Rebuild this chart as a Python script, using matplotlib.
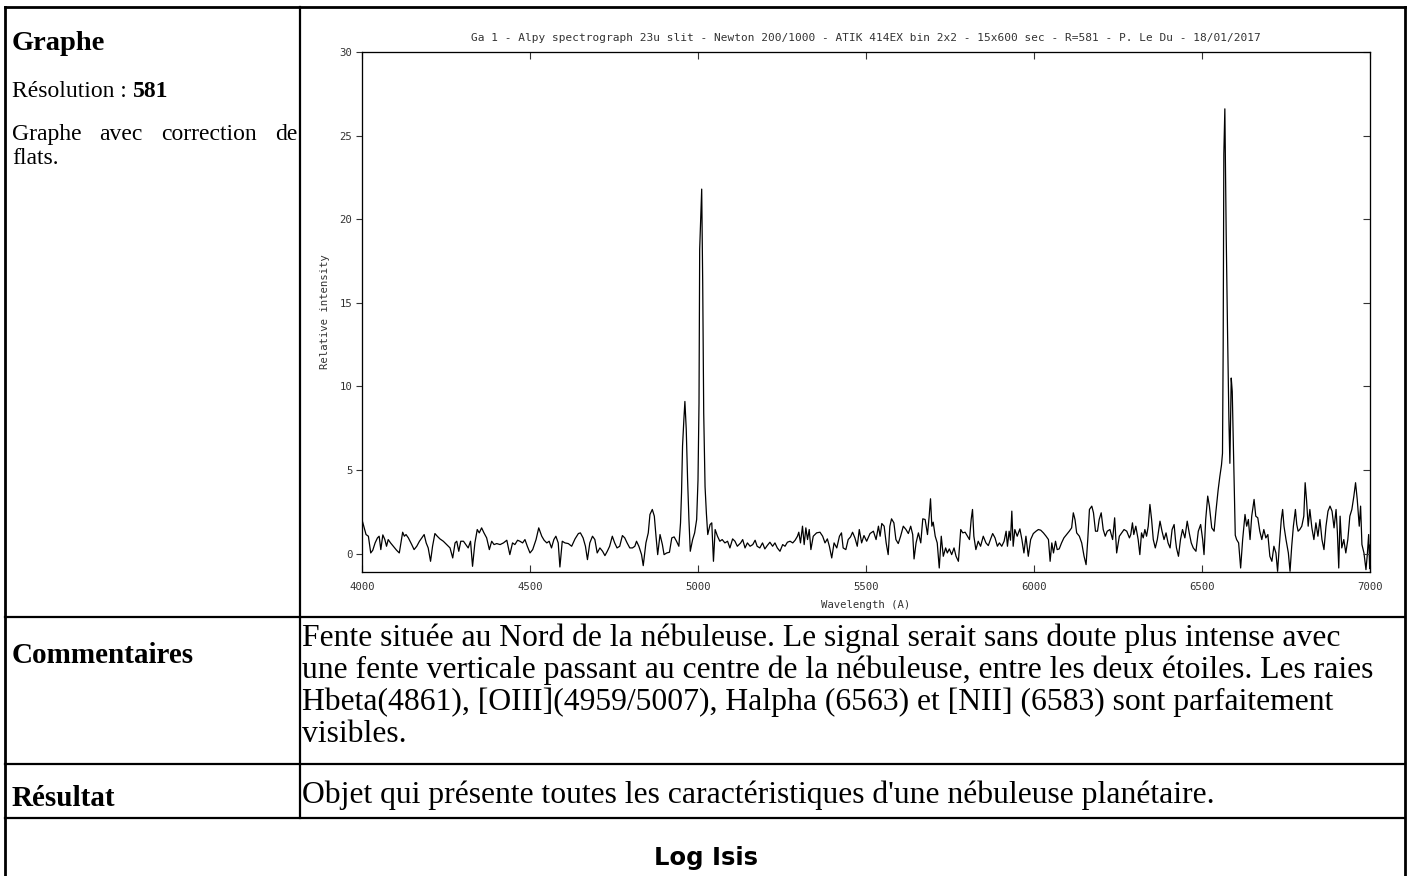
import numpy as np
import matplotlib
matplotlib.use('Agg')
import matplotlib.pyplot as plt

# ISIS spectrum of Ga 1: wavelength (A) / relative intensity
wave_blue = [4002, 4012, 4019, 4026, 4032, 4039, 4046, 4051, 4056, 4062,
             4068, 4073, 4078, 4085, 4093, 4103, 4111, 4115, 4121, 4126,
             4131, 4138, 4148, 4155, 4163, 4171, 4178, 4185, 4191, 4197,
             4204, 4210, 4217, 4224, 4232, 4242, 4252, 4262, 4270, 4277,
             4282, 4288, 4294, 4302, 4309, 4316, 4323, 4329, 4336, 4343,
             4349, 4356, 4363, 4371, 4379, 4386, 4393, 4401, 4411, 4421,
             4431, 4440, 4448, 4455, 4463, 4470, 4478, 4485, 4492, 4500,
             4508, 4518, 4526, 4535, 4542, 4550, 4557, 4564, 4571, 4577,
             4584, 4589, 4596, 4604, 4614, 4624, 4634, 4644, 4650, 4658,
             4665, 4671, 4678, 4686, 4693, 4700, 4708, 4716, 4723, 4730,
             4737, 4745, 4752, 4759, 4767, 4775, 4782, 4789, 4797, 4805,
             4812, 4817, 4824, 4832, 4837, 4845, 4852, 4857, 4864, 4870,
             4875, 4880, 4887, 4894, 4899, 4907, 4915, 4922, 4929, 4936,
             4943, 4948, 4951, 4954, 4958, 4961, 4965, 4969, 4973, 4977,
             4984, 4990, 4996, 5000, 5003, 5005, 5008, 5011, 5014, 5017,
             5021, 5025, 5029, 5036, 5041, 5046, 5051, 5058, 5065, 5072,
             5080, 5088, 5095, 5103, 5110, 5117]
flux_blue = [1.88, 1.14, 1.04, 0.04, 0.20, 0.64, 0.94, 1.04, 0.24, 1.12,
             0.84, 0.44, 0.84, 0.64, 0.44, 0.20, 0.04, 0.54, 1.28, 1.04,
             1.14, 0.94, 0.54, 0.24, 0.44, 0.74, 0.94, 1.14, 0.64, 0.34,
             -0.46, 0.44, 1.20, 1.04, 0.88, 0.74, 0.54, 0.34, -0.26, 0.64,
             0.74, 0.14, 0.74, 0.74, 0.54, 0.34, 0.74, -0.76, 0.64, 1.44,
             1.24, 1.54, 1.24, 0.94, 0.24, 0.74, 0.54, 0.60, 0.54, 0.64,
             0.80, -0.06, 0.64, 0.54, 0.80, 0.74, 0.64, 0.84, 0.44, 0.04,
             0.24, 0.84, 1.54, 1.04, 0.80, 0.64, 0.74, 0.34, 0.84, 1.04,
             0.64, -0.80, 0.74, 0.64, 0.60, 0.44, 0.88, 1.20, 1.24, 0.94,
             0.44, -0.36, 0.64, 1.04, 0.84, 0.04, 0.34, 0.14, -0.12, 0.14,
             0.44, 1.04, 0.64, 0.34, 0.44, 1.08, 0.94, 0.64, 0.34, 0.34,
             0.44, 0.74, 0.44, -0.06, -0.72, 0.64, 1.24, 2.34, 2.64, 2.24,
             1.04, -0.06, 1.14, 0.54, -0.06, 0.04, 0.08, 0.94, 1.00, 0.74,
             0.44, 1.84, 3.64, 6.44, 8.04, 9.10, 7.44, 4.44, 2.04, 0.14,
             0.84, 1.24, 2.04, 4.40, 9.00, 18.20, 20.00, 21.80, 16.20, 8.40,
             4.00, 2.40, 1.14, 1.74, 1.84, -0.46, 1.44, 1.04, 0.74, 0.84,
             0.64, 0.74, 0.34, 0.88, 0.74, 0.44]

wave_green = [5127, 5133, 5140, 5147, 5155, 5163, 5170, 5176, 5184, 5192,
              5199, 5206, 5214, 5222, 5229, 5236, 5244, 5252, 5259, 5266,
              5274, 5282, 5289, 5296, 5300, 5305, 5311, 5316, 5321, 5326,
              5331, 5336, 5343, 5353, 5363, 5371, 5378, 5385, 5391, 5398,
              5405, 5413, 5421, 5427, 5432, 5440, 5447, 5454, 5460, 5467,
              5474, 5480, 5487, 5494, 5502, 5512, 5522, 5530, 5537, 5542,
              5547, 5554, 5560, 5566, 5571, 5576, 5583, 5589, 5596, 5603,
              5611, 5619, 5626, 5633, 5639, 5643, 5649, 5656, 5663, 5669,
              5676, 5683, 5688, 5692, 5696, 5700, 5706, 5712, 5718, 5724,
              5730, 5737, 5742, 5748, 5755, 5762, 5768, 5775, 5782, 5788,
              5795, 5802, 5808, 5813, 5817, 5821, 5827, 5834, 5841, 5849,
              5857, 5864, 5871, 5877, 5884, 5891, 5897, 5904, 5911, 5917,
              5921, 5926, 5930, 5934, 5938, 5943, 5950, 5958, 5964, 5970,
              5976, 5983, 5990, 5998, 6006, 6013, 6020, 6028, 6036, 6043,
              6048, 6053, 6058, 6064, 6069, 6075, 6082, 6089, 6097, 6105,
              6112, 6117, 6122, 6127, 6135, 6142, 6149, 6155, 6160, 6165,
              6172, 6177, 6183, 6189, 6194, 6200, 6206, 6212, 6218]
flux_green = [0.64, 0.84, 0.34, 0.64, 0.44, 0.54, 0.80, 0.44, 0.34, 0.64,
              0.28, 0.48, 0.68, 0.44, 0.64, 0.34, 0.14, 0.54, 0.44, 0.68,
              0.74, 0.64, 0.80, 1.04, 1.28, 0.64, 1.64, 0.54, 1.54, 0.84,
              1.44, 0.24, 1.04, 1.24, 1.28, 1.04, 0.64, 0.88, 0.44, -0.26,
              0.64, 0.34, 1.04, 1.24, 0.34, 0.24, 0.84, 1.00, 1.28, 0.94,
              0.44, 1.44, 0.64, 1.08, 0.74, 1.20, 1.34, 0.84, 1.64, 1.04,
              1.80, 1.64, 0.64, -0.06, 1.64, 2.08, 1.84, 0.84, 0.60, 1.04,
              1.64, 1.44, 1.20, 1.64, 1.14, -0.32, 0.64, 1.24, 0.64, 2.08,
              2.04, 1.14, 2.24, 3.28, 1.64, 1.88, 1.04, 0.64, -0.86, 1.04,
              -0.16, 0.34, 0.04, 0.28, -0.06, 0.34, -0.16, -0.46, 1.44, 1.24,
              1.28, 1.04, 0.84, 2.04, 2.64, 1.04, 0.24, 0.74, 0.44, 1.04,
              0.64, 0.48, 0.88, 1.20, 0.94, 0.44, 0.64, 0.44, 0.74, 1.34,
              0.44, 1.34, 0.80, 2.54, 0.44, 1.44, 1.04, 1.48, 0.84, 0.04,
              1.04, -0.16, 0.84, 1.20, 1.34, 1.44, 1.40, 1.24, 1.04, 0.84,
              -0.46, 0.64, 0.04, 0.74, 0.24, 0.28, 0.64, 0.94, 1.14, 1.34,
              1.54, 2.44, 2.04, 1.24, 1.04, 0.64, -0.16, -0.66, 0.84, 2.64,
              2.84, 2.44, 1.34, 1.34, 2.04, 2.44, 1.44, 1.04, 1.34]

wave_red = [6226, 6234, 6240, 6246, 6254, 6261, 6268, 6276, 6284, 6288,
            6293, 6297, 6303, 6310, 6315, 6320, 6325, 6330, 6335, 6340,
            6345, 6350, 6355, 6361, 6367, 6375, 6381, 6387, 6393, 6399,
            6405, 6411, 6417, 6421, 6424, 6430, 6436, 6442, 6449, 6456,
            6462, 6468, 6474, 6482, 6489, 6496, 6502, 6506, 6511, 6517,
            6522, 6529, 6536, 6541, 6548, 6553, 6558, 6561, 6563, 6565,
            6568, 6572, 6576, 6580, 6583, 6587, 6590, 6594, 6599, 6603,
            6609, 6615, 6621, 6628, 6633, 6638, 6643, 6648, 6655, 6660,
            6666, 6672, 6678, 6684, 6690, 6696, 6702, 6708, 6714, 6720,
            6725, 6730, 6736, 6740, 6744, 6750, 6757, 6762, 6767, 6772,
            6778, 6782, 6786, 6791, 6797, 6803, 6807, 6811, 6816, 6821,
            6827, 6833, 6839, 6845, 6851, 6857, 6863, 6869, 6875, 6881,
            6887, 6893, 6899, 6903, 6907, 6911, 6916, 6922, 6928, 6934,
            6940, 6946, 6952, 6957, 6962, 6968, 6972, 6976, 6982, 6988,
            6992, 6996, 6999, 7000]
flux_red = [1.44, 0.84, 2.14, 0.04, 1.04, 1.24, 1.44, 1.34, 0.94, 1.14,
            1.84, 1.14, 1.64, 0.84, -0.06, 1.24, 0.94, 1.44, 1.04, 1.64,
            2.94, 2.04, 0.84, 0.34, 0.84, 1.94, 1.34, 0.84, 1.24, 0.64,
            0.34, 1.44, 1.74, 0.84, 0.34, -0.16, 0.84, 1.44, 0.94, 1.94,
            1.24, 0.64, 0.34, 0.14, 1.34, 1.74, 0.84, -0.06, 2.04, 3.44,
            2.84, 1.54, 1.34, 2.44, 3.80, 4.60, 5.30, 6.00, 12.30, 23.90,
            26.60, 19.10, 13.30, 8.10, 5.40, 10.50, 9.70, 5.90, 1.10, 0.84,
            0.64, -0.86, 0.84, 2.34, 1.64, 2.04, 0.84, 2.24, 3.24, 2.24,
            2.14, 1.34, 0.84, 1.44, 0.94, 1.14, -0.16, -0.46, 0.44, 0.04,
            -1.06, 0.44, 2.04, 2.64, 1.64, 0.84, 0.04, -1.06, 0.44, 1.64,
            2.64, 1.74, 1.34, 1.44, 1.64, 2.24, 4.24, 3.24, 1.64, 2.64,
            1.54, 0.84, 1.84, 1.04, 2.04, 0.84, 0.24, 1.64, 2.54, 2.84,
            2.54, 1.54, 2.64, 1.24, -0.86, 2.24, 0.34, 0.84, 0.04, 0.84,
            2.24, 2.64, 3.44, 4.24, 3.24, 1.64, 2.84, 0.54, 0.04, -0.96,
            -0.06, 1.14, -0.90, 0.50]

x_ticks = [4000, 4500, 5000, 5500, 6000, 6500, 7000]
y_ticks = [0, 5, 10, 15, 20, 25, 30]

title = ('Ga 1 - Alpy spectrograph 23u slit - Newton 200/1000 - ATIK 414EX bin 2x2 '
         '- 15x600 sec - R=581 - P. Le Du - 18/01/2017')

comment_lines = [
    "Fente située au Nord de la nébuleuse. Le signal serait sans doute plus intense avec",
    "une fente verticale passant au centre de la nébuleuse, entre les deux étoiles. Les raies",
    "Hbeta(4861), [OIII](4959/5007), Halpha (6563) et [NII] (6583) sont parfaitement",
    "visibles.",
]
result_text = "Objet qui présente toutes les caractéristiques d'une nébuleuse planétaire."

wave = np.array(wave_blue + wave_green + wave_red)
flux = np.array(flux_blue + flux_green + flux_red)

plt.rcParams['font.family'] = 'DejaVu Sans Mono'
W, H = 1410, 876
fig = plt.figure(figsize=(W / 100, H / 100), dpi=100)
fig.patch.set_facecolor('white')


def fx(x):
    return x / W


def fy(y):
    return 1 - y / H


def line(x0, y0, x1, y1, lw=1.6):
    fig.add_artist(plt.Line2D([fx(x0), fx(x1)], [fy(y0), fy(y1)], color='black',
                              lw=lw, transform=fig.transFigure))


SERIF = 'Liberation Serif'

# table frame
line(5, 7, 1405, 7, lw=2.0)
line(5, 7, 5, 876, lw=2.0)
line(1405, 7, 1405, 876, lw=2.0)
line(300, 7, 300, 818)
for yy in [617, 764, 818]:
    line(5, yy, 1405, yy)

# spectrum
ink = '#333333'
ax = fig.add_axes([fx(362), fy(572), (1370 - 362) / W, (572 - 52) / H])
ax.plot(wave, flux, color='black', lw=0.9)
ax.set_xlim(4000, 7000)
ax.set_ylim(-1.1, 30)
ax.set_xticks(x_ticks)
ax.set_yticks(y_ticks)
ax.tick_params(axis='x', direction='in', top=True, length=5, width=0.8,
               pad=7, labelsize=7.7, colors=ink)
ax.tick_params(axis='y', direction='out', right=False, length=4, width=0.8,
               pad=3, labelsize=7.7, colors=ink)
for s in ax.spines.values():
    s.set_color(ink)
    s.set_linewidth(0.9)
axr = ax.twinx()
axr.set_ylim(ax.get_ylim())
axr.set_yticks(y_ticks)
axr.tick_params(axis='y', direction='in', length=5, width=0.8, labelright=False, colors=ink)

ax.text(0.5, (572 - 38) / 520, title, transform=ax.transAxes, ha='center', va='center',
        fontsize=8, color=ink)
ax.set_xlabel('Wavelength (A)', fontsize=7.7, color=ink)
ax.xaxis.set_label_coords(0.5, (572 - 605) / 520)
ax.xaxis.label.set_va('center')
ax.set_ylabel('Relative intensity', fontsize=7.7, color=ink)
ax.yaxis.set_label_coords((325 - 362) / 1008, 0.5)
ax.yaxis.label.set_va('center')

# left column of the graph row
r = fig.canvas.get_renderer()
fig.text(fx(12), fy(50), 'Graphe', family=SERIF, weight='bold', fontsize=20.5, va='baseline')
t = fig.text(fx(12), fy(97), 'Résolution :', family=SERIF, fontsize=17, va='baseline')
x_end = t.get_window_extent(r).x1 / W
fig.text(x_end + 6 / W, fy(97), '581', family=SERIF, weight='bold', fontsize=17, va='baseline')

words = ['Graphe', 'avec', 'correction', 'de']
objs = [fig.text(0, fy(140), w, family=SERIF, fontsize=17, va='baseline') for w in words]
widths = [o.get_window_extent(r).width for o in objs]
gap = (297 - 12 - sum(widths)) / (len(words) - 1)
xpos = 12
for o, wd in zip(objs, widths):
    o.set_x(fx(xpos))
    xpos += wd + gap
fig.text(fx(12), fy(164), 'flats.', family=SERIF, fontsize=17, va='baseline')

# comment rows
fig.text(fx(12), fy(663), 'Commentaires', family=SERIF, weight='bold', fontsize=21, va='baseline')
for i, txt in enumerate(comment_lines):
    fig.text(fx(302), fy(646 + 32 * i), txt, family=SERIF, fontsize=22.8, va='baseline')
fig.text(fx(12), fy(806), 'Résultat', family=SERIF, weight='bold', fontsize=21, va='baseline')
fig.text(fx(302), fy(803), result_text, family=SERIF, fontsize=22.8, va='baseline')

fig.text(fx(706), fy(858), 'Log Isis', family='DejaVu Sans', weight='bold', fontsize=17.5,
         ha='center', va='center')

fig.savefig('out.png', dpi=100, facecolor='white')
